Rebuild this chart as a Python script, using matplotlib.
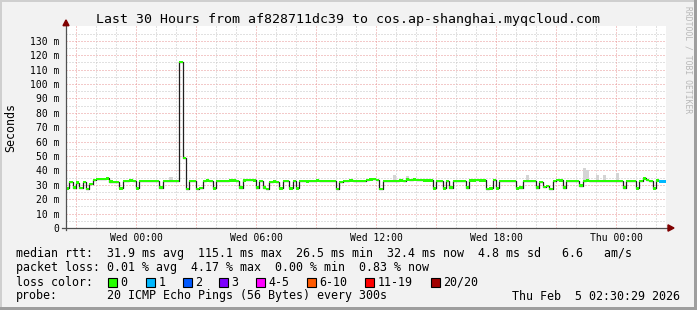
import matplotlib
matplotlib.use("Agg")
import matplotlib.pyplot as plt
import numpy as np
from matplotlib.patches import Rectangle, Polygon

W, H = 697, 310
MONO = "DejaVu Sans Mono"

# median rtt (ms), one value per 10 minutes, Tue 20:30 -> Thu 02:30 (one row = one hour)
median_rtt = [
    27.5, 31.8, 28.0, 31.5, 27.8, 32.0,
    27.2, 30.5, 33.5, 34.0, 34.2, 34.0,
    34.5, 32.2, 31.8, 32.0, 27.5, 32.5,
    32.5, 33.0, 32.5, 27.5, 32.5, 32.8,
    32.5, 32.5, 32.8, 32.5, 28.0, 32.5,
    32.5, 32.8, 32.5, 32.5, 115.1, 48.5,
    27.0, 32.5, 32.8, 27.2, 27.8, 32.8,
    33.0, 32.5, 27.5, 32.5, 32.8, 32.8,
    32.8, 33.0, 33.0, 32.5, 28.0, 33.0,
    33.2, 33.5, 33.0, 28.0, 32.5, 28.0,
    27.2, 32.0, 32.3, 32.0, 27.5, 32.5,
    32.5, 27.5, 32.5, 27.5, 32.5, 32.8,
    32.3, 32.8, 32.5, 33.0, 32.5, 32.5,
    32.5, 32.8, 32.5, 27.0, 32.0, 32.8,
    32.8, 33.0, 32.5, 32.8, 32.5, 32.5,
    33.5, 33.8, 34.2, 33.5, 27.2, 32.5,
    32.5, 32.8, 32.5, 32.5, 33.0, 32.8,
    33.8, 33.5, 33.8, 33.5, 33.2, 33.0,
    33.0, 33.0, 27.5, 32.5, 32.5, 27.5,
    32.5, 28.0, 32.5, 32.5, 32.8, 32.5,
    28.0, 33.0, 33.0, 33.2, 33.0, 33.0,
    27.2, 27.5, 33.5, 27.5, 32.5, 32.5,
    32.5, 32.5, 32.5, 27.5, 28.0, 32.5,
    32.5, 32.8, 32.5, 28.0, 32.0, 28.5,
    29.0, 27.0, 32.5, 33.2, 33.0, 28.0,
    32.5, 32.5, 32.5, 32.5, 29.5, 32.5,
    33.0, 32.5, 32.5, 32.5, 32.5, 32.5,
    32.5, 32.5, 32.5, 32.5, 32.5, 28.0,
    32.5, 32.5, 32.5, 27.5, 32.5, 34.5,
    33.5, 32.5, 27.5, 33.0, 32.4, 32.4,
]
# slots with lost packets (everything else lost 0 of 20)
loss_idx = [178, 179]
loss_val = [1, 1]
# light smoke above the median
smoke_idx = [31, 98, 102, 138, 155, 156, 159, 161, 165]
smoke_top = [35.5, 36.8, 36.0, 36.5, 41.6, 40.0, 37.0, 36.5, 38.5]

x_labels = ["Wed 00:00", "Wed 06:00", "Wed 12:00", "Wed 18:00", "Thu 00:00"]
x_label_pos = [3.5, 9.5, 15.5, 21.5, 27.5]  # hours after Tue 20:30

loss_names = ["0", "1", "2", "3", "4-5", "6-10", "11-19", "20/20"]
loss_colors = ["#26ff00", "#00b8ff", "#0059ff", "#7e00ff", "#ff00ff",
               "#ff5a00", "#ff0000", "#a10000"]
loss_box_x = [108, 146, 183, 219, 256, 307, 365, 431]

stats_rtt = "median rtt:  31.9 ms avg  115.1 ms max  26.5 ms min  32.4 ms now  4.8 ms sd   6.6   am/s"
stats_loss = "packet loss: 0.01 % avg  4.17 % max  0.00 % min  0.83 % now"
probe_text = "20 ICMP Echo Pings (56 Bytes) every 300s"
stamp = "Thu Feb  5 02:30:29 2026"
title = "Last 30 Hours from af828711dc39 to cos.ap-shanghai.myqcloud.com"

step = 1 / 6
hours = np.arange(len(median_rtt)) * step
med = np.array(median_rtt)
loss = np.zeros(len(med), dtype=int)
loss[loss_idx] = loss_val


def px_text(x, y, s, **kw):
    kw.setdefault("family", MONO)
    kw.setdefault("va", "center")
    fig.text(x / W, 1 - y / H, s, **kw)


fig = plt.figure(figsize=(W / 100, H / 100), dpi=100, facecolor="#f2f2f2")
ax = fig.add_axes([66 / W, (H - 228) / H, 600 / W, 201.6 / H])
ax.set_xlim(0, 30)
ax.set_ylim(0, 140)
for s in ax.spines.values():
    s.set_visible(False)

# grid: gray every 5 ms / 1 h, red every 10 ms / 3 h (dotted)
for v in range(5, 140, 5):
    col = "#e89494" if v % 10 == 0 else "#c4c4c4"
    ax.axhline(v, color=col, lw=0.72, ls=(0, (1, 2)), zorder=1)
for hh in np.arange(0.5, 30, 1.0):
    col = "#e89494" if (hh - 0.5) % 3 == 0 else "#c4c4c4"
    ax.axvline(hh, color=col, lw=0.72, ls=(0, (1, 2)), zorder=1)

# smoke
ax.bar(hours[smoke_idx], np.array(smoke_top) - med[smoke_idx], bottom=med[smoke_idx],
       width=step, align="edge", color="#d4d4d4", lw=0, zorder=2)

# median line (black steps) with loss-colored band on top
ax.step(np.append(hours, 30), np.append(med, med[-1]), where="post",
        color="#202020", lw=0.9, zorder=3)
band_cols = [loss_colors[l] for l in loss]
ax.bar(hours, 1.7, bottom=med - 0.85, width=step, align="edge",
       color=band_cols, lw=0, zorder=4)

# axes with arrows
axis_col = "#505050"
ax.plot([-0.2, 30.1], [0, 0], color=axis_col, lw=0.9, clip_on=False, zorder=5)
ax.plot([0, 0], [-1.5, 141], color=axis_col, lw=0.9, clip_on=False, zorder=5)
ax.add_patch(Polygon([[30.1, -2.2], [30.1, 2.2], [30.4, 0]], closed=True,
                     color="#7f0000", clip_on=False, zorder=6))
ax.add_patch(Polygon([[-0.15, 140.5], [0.15, 140.5], [0, 144.5]], closed=True,
                     color="#7f0000", clip_on=False, zorder=6))

ax.set_yticks(range(0, 140, 10))
ax.set_yticklabels(["0"] + [f"{v} m" for v in range(10, 140, 10)])
ax.set_xticks(x_label_pos)
ax.set_xticklabels(x_labels)
ax.tick_params(axis="y", length=0, pad=4.5, labelsize=7)
ax.tick_params(axis="x", length=0, pad=3.5, labelsize=7)
for lab in ax.get_xticklabels() + ax.get_yticklabels():
    lab.set_family(MONO)

px_text(348.5, 19, title, ha="center", fontsize=9.55)
px_text(11, 127, "Seconds", ha="center", rotation=90, fontsize=8.4)
px_text(688, 60, "RRDTOOL / TOBI OETIKER", ha="center", rotation=270,
        fontsize=5.8, color="#b8b8b8")

# legend
px_text(16, 254, stats_rtt, fontsize=8.42)
px_text(16, 268, stats_loss, fontsize=8.42)
px_text(16, 282, "loss color:", fontsize=8.42)
for bx, name, col in zip(loss_box_x, loss_names, loss_colors):
    fig.add_artist(Rectangle((bx / W, 1 - 286.5 / H), 8.5 / W, 8.5 / H,
                             transform=fig.transFigure, facecolor=col,
                             edgecolor="black", lw=0.8))
    px_text(bx + 12.5, 282, name, fontsize=8.42)
px_text(16, 296, "probe:", fontsize=8.42)
px_text(107, 296, probe_text, fontsize=8.42)
px_text(680, 296, stamp, ha="right", fontsize=8.42)

# frame shading
fig.add_artist(Rectangle((0, 0), 2 / W, 1, transform=fig.transFigure, color="#cfcfcf", lw=0))
fig.add_artist(Rectangle((0, 1 - 2 / H), 1, 2 / H, transform=fig.transFigure, color="#cfcfcf", lw=0))
fig.add_artist(Rectangle((1 - 3 / W, 0), 3 / W, 1, transform=fig.transFigure, color="#9e9e9e", lw=0))
fig.add_artist(Rectangle((0, 0), 1, 3 / H, transform=fig.transFigure, color="#9e9e9e", lw=0))

fig.savefig("out.png", dpi=100, facecolor=fig.get_facecolor())
